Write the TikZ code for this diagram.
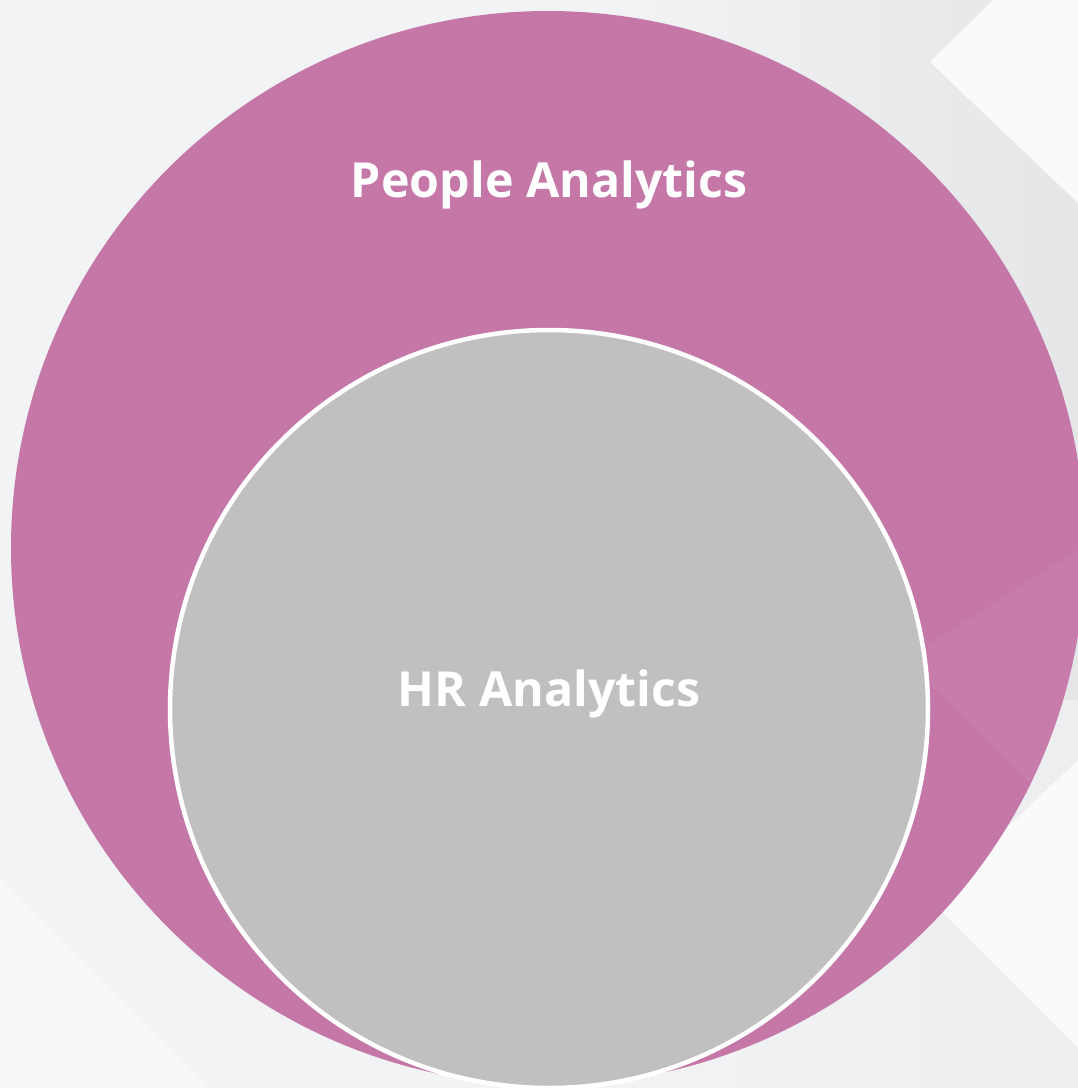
\documentclass[tikz,border=0pt]{standalone}
\usepackage{fontspec}
\setmainfont{Open Sans}
\definecolor{bgA}{HTML}{F2F3F5}
\definecolor{bgB}{HTML}{E5E6E8}
\definecolor{pinkc}{HTML}{C577A8}
\definecolor{grayc}{HTML}{C0C0C0}
\definecolor{sheenc}{HTML}{FAFAFB}
\tikzset{
  disc/.style={circle, inner sep=0pt, outer sep=0pt},
  label text/.style={text=white, font=\fontsize{11.5}{14}\selectfont\bfseries, scale=4.2, transform shape},
  sheen/.style={fill=sheenc, draw=none}
}
\begin{document}
\begin{tikzpicture}[x=1pt,y=-1pt]
\useasboundingbox (0,0) rectangle (1078,1088);
\clip (0,0) rectangle (1078,1088);
% background
\fill[bgA] (0,0) rectangle (1078,1088);
\shade[left color=bgA, right color=bgB] (600,0) rectangle (1078,700);
\shade[left color=bgA, right color=bgA!60!bgB] (600,700) rectangle (1078,1088);
\fill[sheen] (930,62) -- (993,0) -- (1078,0) -- (1078,203) -- cycle;
\fill[sheen] (930,900) -- (1078,760) -- (1078,1048) -- cycle;
\fill[white, opacity=0.4] (0,877) -- (211,1088) -- (0,1088) -- cycle;
% circles
\node[disc, fill=pinkc, minimum size=1074pt] (outer) at (548,548) {};
\begin{scope}
  \clip (548,548) circle (537);
  \fill[white, opacity=0.04] (905,660) -- (1078,550) -- (1078,830) -- cycle;
\end{scope}
\node[disc, fill=grayc, draw=white, line width=4.5pt, minimum size=758pt] (inner) at (549,709) {};
% labels
\node[label text] (pa) at (549,185) {People Analytics};
\node[label text] (hr) at (549,694) {HR Analytics};
\end{tikzpicture}
\end{document}
